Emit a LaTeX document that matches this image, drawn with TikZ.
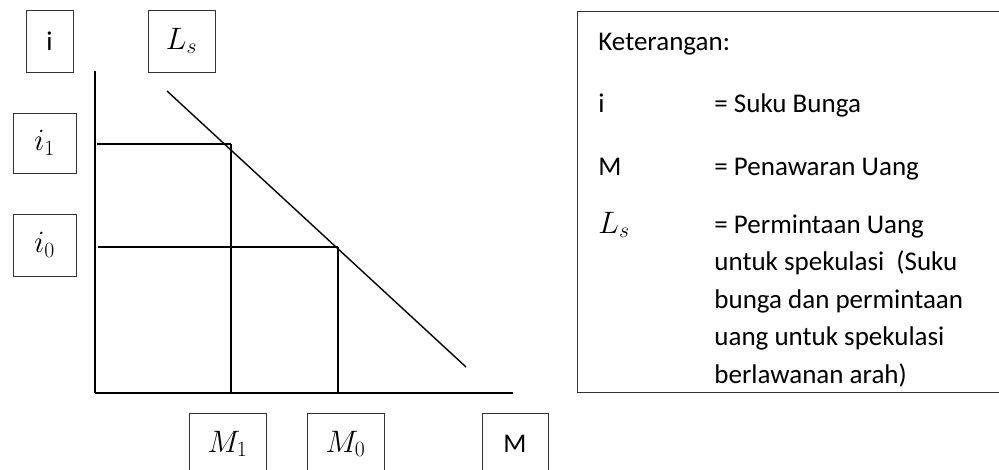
\RequirePackage{fix-cm}
\documentclass[tikz,border=0pt]{standalone}
\usepackage{fontspec}
\setmainfont{Carlito}
\usetikzlibrary{positioning}

\begin{document}
\begin{tikzpicture}[x=1pt,y=-1pt,thick,
    main node/.style={draw=black!80,line width=0.9pt,inner sep=0pt,minimum height=62,font=\fontsize{27}{32}\selectfont},
    math node/.style={main node,font=\fontsize{31}{36}\selectfont},
    axis line/.style={line width=2pt},
    guide line/.style={line width=1.4pt},
    legend text/.style={anchor=base west,inner sep=0pt,font=\fontsize{27}{32}\selectfont}]

            \path[use as bounding box, clip] (0,0) rectangle (999,469);

            % label boxes
            \node[main node, minimum width=47] (i) at (49.5,41) {i};
            \node[math node, minimum width=67] (Ls) at (181.5,41) {$L_s$};
            \node[math node, minimum width=63, minimum height=60] (i1) at (44.5,143) {$i_1$};
            \node[math node, minimum width=63] (i0) at (44.5,245) {$i_0$};
            \node[math node, minimum width=77] (M1) at (227.5,444) {$M_1$};
            \node[math node, minimum width=77] (M0) at (345.5,444) {$M_0$};
            \node[main node, minimum width=66] (M) at (515,444) {M};

            % graph points
            \coordinate (o) at (95,393);
            \coordinate (ytop) at (95,71);
            \coordinate (xend) at (513,393);
            \coordinate (ltop) at (167,91);
            \coordinate (lend) at (466,367);
            \coordinate (e1) at (231,144);
            \coordinate (e0) at (338,247);
            \coordinate (g1) at (97,144);
            \coordinate (g0) at (98,247);
            \coordinate (f1) at (231,393);
            \coordinate (f0) at (338,393);

            \path[axis line]
                (ytop) edge (o)
                (o) edge (xend)
            ;
            \path[guide line]
                (ltop) edge (lend)
                (g1) edge (e1)
                (e1) edge (f1)
                (g0) edge (e0)
                (e0) edge (f0)
            ;

            % legend
            \node[draw=black!80, line width=0.9pt, anchor=north west, minimum width=440, minimum height=381, inner sep=0pt] (ket) at (577,11) {};
            \node[legend text] (k0) at (598,50) {Keterangan:};
            \node[legend text] (k1) at (598,112) {i};
            \node[legend text] (k1d) at (714,112) {= Suku Bunga};
            \node[legend text] (k2) at (598,175) {M};
            \node[legend text] (k2d) at (714,175) {= Penawaran Uang};
            \node[legend text, font=\fontsize{31}{36}\selectfont] (k3) at (598,233) {$L_s$};
            \node[legend text] (k3a) at (714,233) {= Permintaan Uang};
            \node[legend text] (k3b) at (714,270.5) {untuk spekulasi\ \ (Suku};
            \node[legend text] (k3c) at (714,308) {bunga dan permintaan};
            \node[legend text] (k3d) at (714,345.5) {uang untuk spekulasi};
            \node[legend text] (k3e) at (714,383) {berlawanan arah)};
        \end{tikzpicture}
\end{document}
